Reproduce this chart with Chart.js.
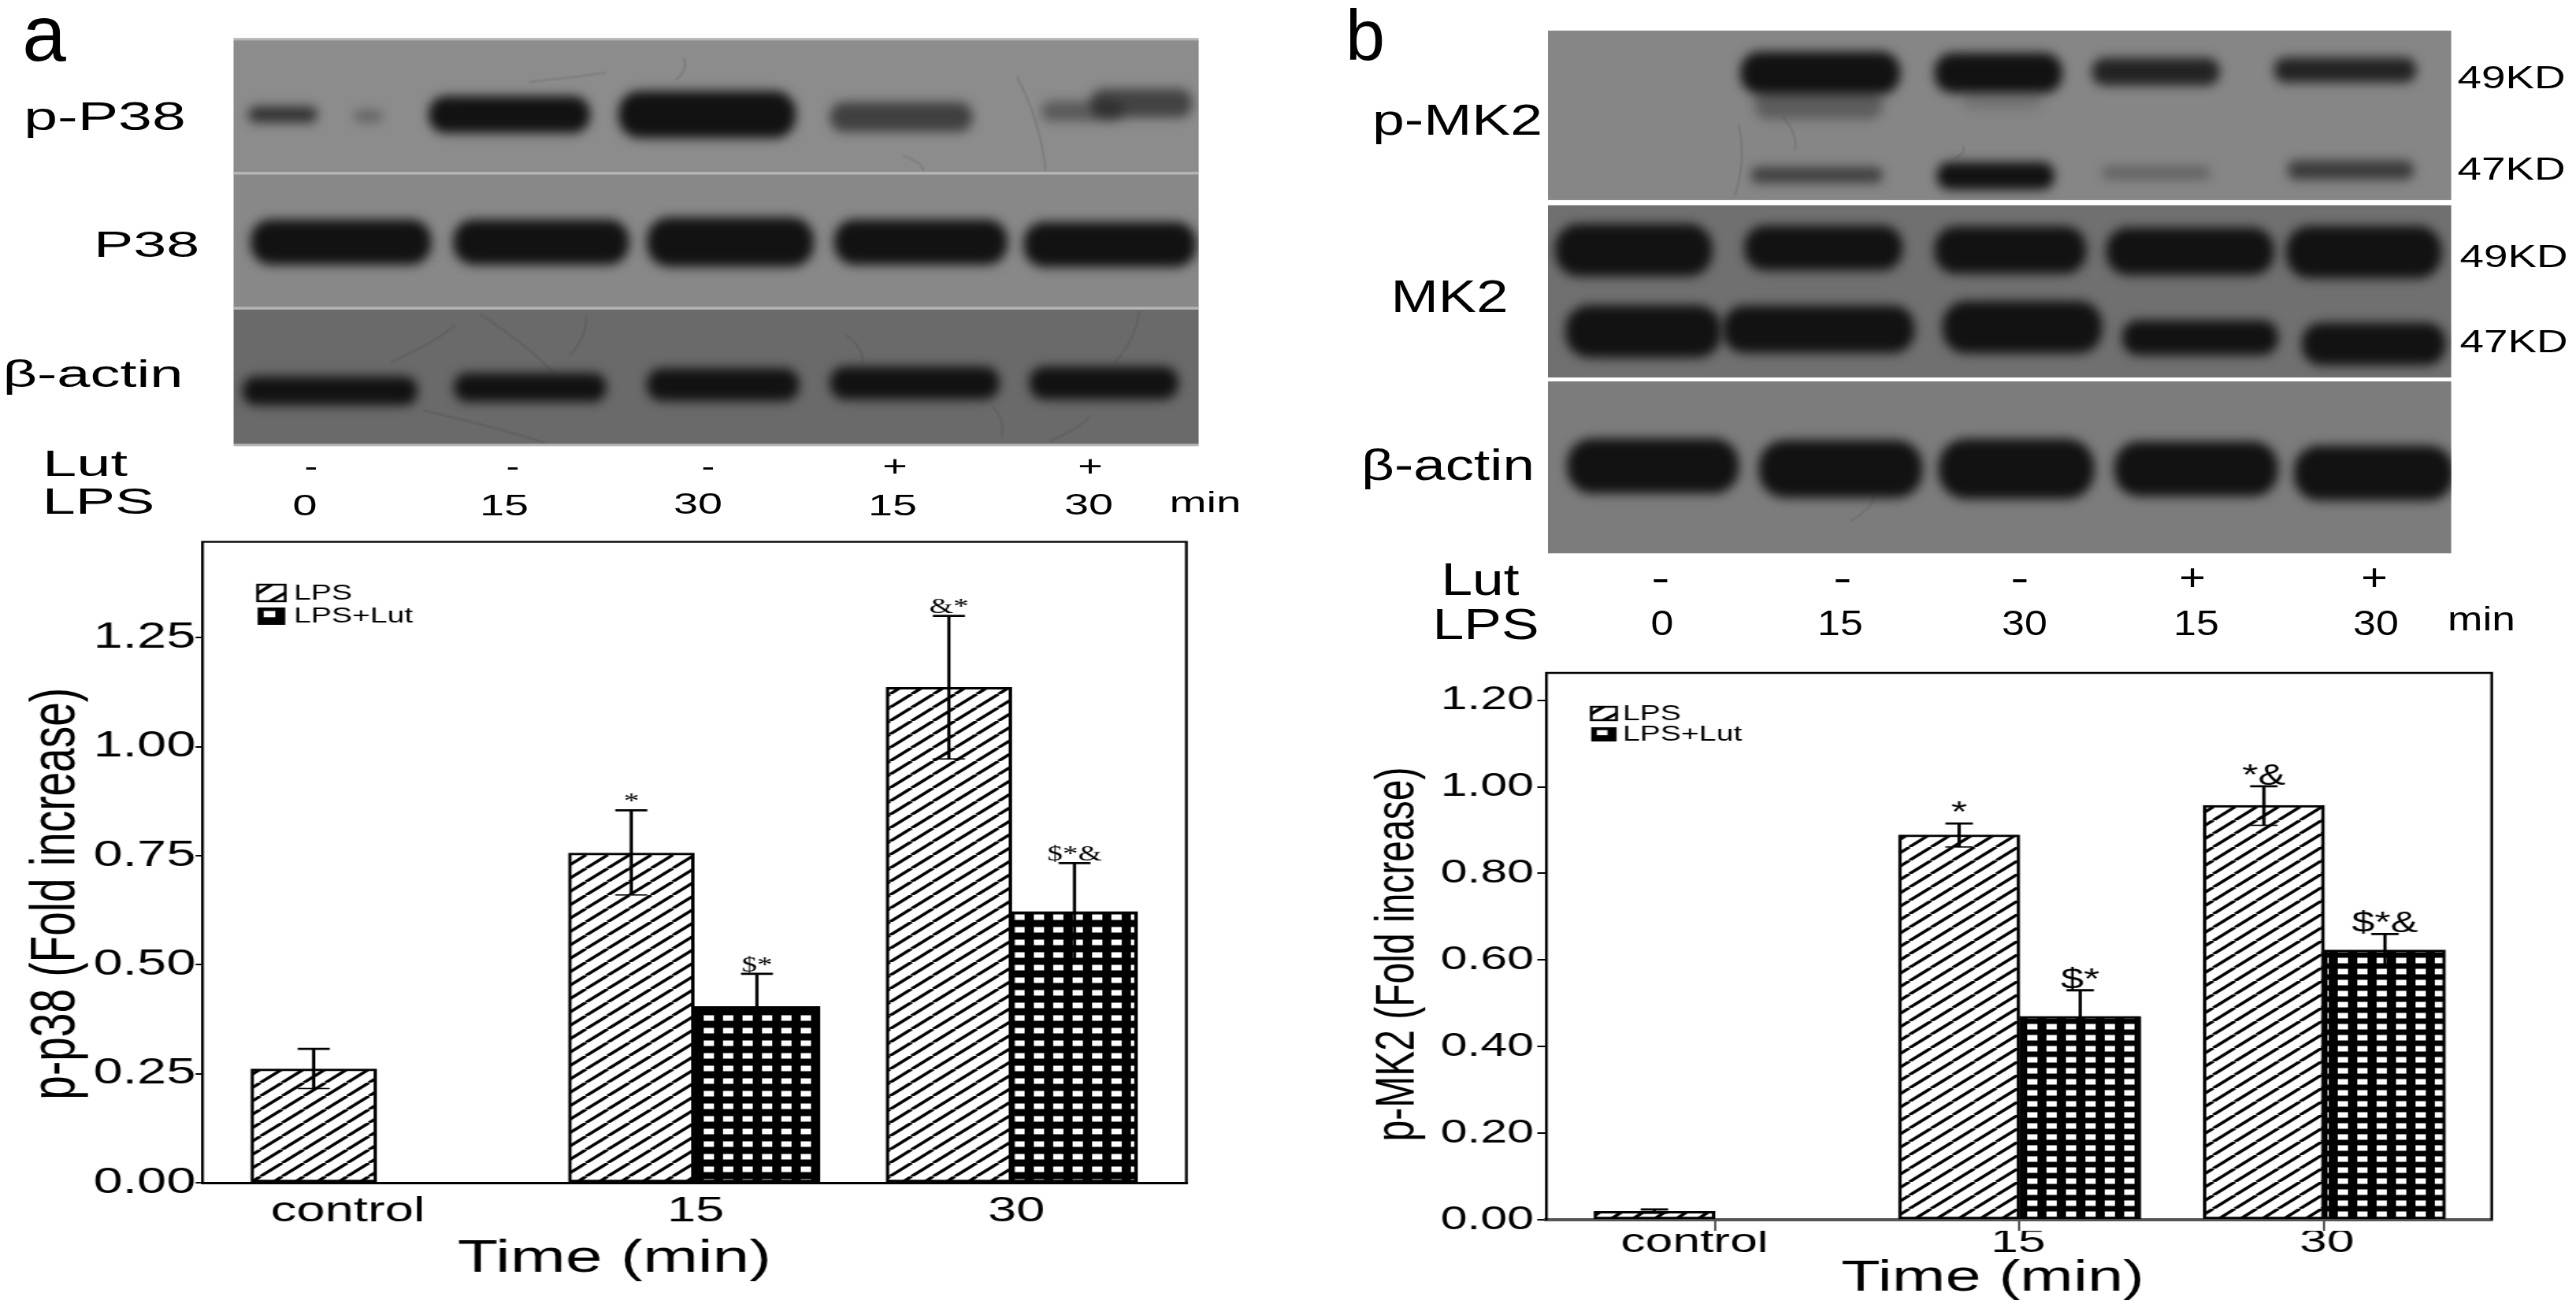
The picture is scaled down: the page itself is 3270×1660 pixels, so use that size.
<!DOCTYPE html>
<html>
<head>
<meta charset="utf-8">
<title>p-p38 and p-MK2</title>
<script src="https://cdn.jsdelivr.net/npm/chart.js@4"></script>
<style>
  html, body { margin: 0; background: #fff; }
  #root { position: relative; width: 3270px; height: 1660px; overflow: hidden; background: #fff; filter: blur(0.6px); }
  #root canvas { position: absolute; }
  .lbl { position: absolute; white-space: nowrap; line-height: 1; color: #000; font-family: "Liberation Sans", sans-serif; }
</style>
</head>
<body>
<div id="root"><canvas id="blots" width="3270" height="1660" style="left:0;top:0"></canvas></div>
<script>
// values
const categories = ['control', '15', '30']
const seriesNames = ['LPS', 'LPS+Lut']

const lpsA = [0.261, 0.756, 1.136]
const lpsATop = [0.307, 0.854, 1.300]
const lpsALow = [0.216, 0.660, 0.972]
const lutA = [null, 0.404, 0.622]
const lutATop = [null, 0.479, 0.733]
const lutALow = [null, 0.330, 0.510]
const marksLpsA = ['', '*', '&*']
const marksLutA = ['', '$*', '$*&']

const lpsB = [0.0195, 0.889, 0.957]
const lpsBTop = [0.024, 0.915, 1.001]
const lpsBLow = [0.015, 0.861, 0.911]
const lutB = [null, 0.470, 0.623]
const lutBTop = [null, 0.530, 0.660]
const lutBLow = [null, 0.410, 0.583]
const marksLpsB = ['', '*', '*&']
const marksLutB = ['', '$*', '$*&']

// the source figure is stretched sideways, so the canvases are too
const stretch = 1.45

function hatch(ctx, w, h, lw) {
    const c = document.createElement('canvas')
    c.width = w; c.height = h
    const g = c.getContext('2d')
    g.fillStyle = '#fff'
    g.fillRect(0, 0, w, h)
    g.strokeStyle = '#000'
    g.lineWidth = lw
    for (const k of [-1, 0, 1]) {
        g.beginPath()
        g.moveTo(k * w, h)
        g.lineTo(k * w + w, 0)
        g.stroke()
    }
    return ctx.createPattern(c, 'repeat')
}

function checks(ctx, w, h, sw, sh) {
    const c = document.createElement('canvas')
    c.width = w; c.height = h
    const g = c.getContext('2d')
    g.fillStyle = '#000'
    g.fillRect(0, 0, w, h)
    g.fillStyle = '#fff'
    g.fillRect((w - sw) / 2, (h - sh) / 2, sw, sh)
    return ctx.createPattern(c, 'repeat')
}

function shiftTitle(scale, dx, dy) {
    if (scale.shifted) return
    scale.shifted = true
    const orig = scale.drawTitle
    scale.drawTitle = function () {
        this.ctx.save()
        this.ctx.translate(dx, dy)
        orig.call(this)
        this.ctx.restore()
    }
}

function drawPanel(p) {
    const canvas = document.createElement('canvas')
    const w = Math.round(p.boxW / stretch)
    canvas.width = w
    canvas.height = p.boxH
    canvas.style.left = p.ox + 'px'
    canvas.style.top = p.oy + 'px'
    canvas.style.transformOrigin = '0 0'
    canvas.style.transform = 'scaleX(' + stretch + ')'
    document.getElementById('root').appendChild(canvas)
    const ctx = canvas.getContext('2d')
    const toX = x => (x - p.ox) / stretch

    const extras = {
        id: 'extras',
        afterDraw(chart) {
            const c = chart.ctx, a = chart.chartArea, y = chart.scales.y
            c.save()
            // frame
            c.strokeStyle = '#000'
            c.lineWidth = p.frameW
            c.beginPath()
            c.moveTo(a.left, a.bottom)
            c.lineTo(a.left, a.top)
            c.lineTo(a.right, a.top)
            c.lineTo(a.right, a.bottom)
            c.stroke()
            // error bars and significance marks
            p.errors.forEach((e, d) => {
                chart.getDatasetMeta(d).data.forEach((bar, i) => {
                    if (e.top[i] === null) return
                    const t = y.getPixelForValue(e.top[i]), l = y.getPixelForValue(e.low[i])
                    c.strokeStyle = '#000'
                    c.lineWidth = 2.8
                    c.beginPath()
                    c.moveTo(bar.x, t); c.lineTo(bar.x, l)
                    c.moveTo(bar.x - p.capW, t); c.lineTo(bar.x + p.capW, t)
                    c.stroke()
                    c.lineWidth = 1.6
                    c.beginPath()
                    c.moveTo(bar.x - p.capW, l); c.lineTo(bar.x + p.capW, l)
                    c.stroke()
                    c.fillStyle = '#000'
                    c.font = p.markFont
                    c.textAlign = 'center'
                    c.textBaseline = 'bottom'
                    c.fillText(e.marks[i], bar.x, t + p.markGap)
                })
            })
            // legend
            p.legend.forEach((row, i) => {
                const x = toX(row.x), bw = row.w / stretch
                c.fillStyle = i ? '#000' : '#fff'
                c.fillRect(x, row.y, bw, row.h)
                c.fillStyle = '#000'
                if (i) {
                    c.fillStyle = '#fff'
                    c.fillRect(x + bw * 0.22, row.y + row.h * 0.2, bw * 0.42, row.h * 0.36)
                } else {
                    c.save()
                    c.beginPath(); c.rect(x, row.y, bw, row.h); c.clip()
                    c.strokeStyle = '#000'
                    c.lineWidth = 3.4
                    c.beginPath()
                    c.moveTo(x - 2, row.y + row.h * 0.62); c.lineTo(x + bw * 0.6, row.y - 2)
                    c.moveTo(x + bw * 0.35, row.y + row.h + 2); c.lineTo(x + bw + 2, row.y + row.h * 0.42)
                    c.stroke()
                    c.restore()
                    c.lineWidth = 2.4
                    c.strokeRect(x, row.y, bw, row.h)
                }
                c.fillStyle = '#000'
                c.font = p.legendSize + 'px "Liberation Sans"'
                c.textAlign = 'left'
                c.textBaseline = 'middle'
                c.fillText(seriesNames[i], toX(p.legendTextX), row.y + row.h / 2 + 1)
            })
            c.restore()
        }
    }

    new Chart(ctx, {
        type: 'bar',
        data: {
            datasets: [
                {
                    label: seriesNames[0],
                    data: p.lps.map((v, i) => ({ x: i, y: v })),
                    backgroundColor: hatch(ctx, 19, 17, 3.3),
                    borderColor: '#000', borderWidth: 3, borderSkipped: false,
                    barThickness: p.barW
                },
                {
                    label: seriesNames[1],
                    data: p.lut.map((v, i) => ({ x: i, y: v })),
                    backgroundColor: checks(ctx, 17, p.checkH, 9, 7),
                    borderColor: '#000', borderWidth: 3, borderSkipped: false,
                    barThickness: p.barW
                }
            ]
        },
        options: {
            responsive: false,
            animation: false,
            devicePixelRatio: 1,
            layout: { padding: { top: p.top - p.oy, right: w - toX(p.right), left: 0, bottom: 0 } },
            plugins: { legend: { display: false }, tooltip: { enabled: false } },
            scales: {
                x: {
                    type: 'linear',
                    min: p.xMin, max: p.xMax,
                    offset: false,
                    weight: 0,
                    border: { color: p.axisColor, width: p.axisW },
                    grid: { display: p.xTicks > 0, offset: false, drawOnChartArea: false, color: p.axisColor, lineWidth: 2, tickLength: p.xTicks },
                    ticks: { display: false },
                    afterBuildTicks: s => { s.ticks = categories.map((c, i) => ({ value: i })) },
                    afterFit: s => { s.height = p.xTicks }
                },
                xl: {
                    type: 'linear',
                    position: 'bottom',
                    min: p.xMin, max: p.xMax,
                    offset: false,
                    weight: 1,
                    border: { display: false },
                    grid: { display: false, offset: false },
                    ticks: {
                        autoSkip: false, maxRotation: 0, padding: p.labelPad,
                        font: { size: p.xSize }, color: '#000',
                        callback: (v, i) => categories[i]
                    },
                    title: { display: true, text: 'Time (min)', color: '#000', font: { size: p.xTitleSize }, padding: { top: 0, bottom: p.xTitlePad } },
                    afterBuildTicks: s => { s.ticks = p.labelAt.map(value => ({ value })) },
                    afterFit: s => { s.height = p.boxH - (p.bottom - p.oy) - p.xTicks; shiftTitle(s, p.xTitleDx, 0) }
                },
                y: {
                    min: 0, max: p.yMax,
                    border: { color: '#000', width: 2 },
                    grid: { drawOnChartArea: false, color: '#000', lineWidth: 2, tickLength: p.yTickLen },
                    ticks: {
                        stepSize: p.step, includeBounds: false, padding: p.yPad,
                        font: { size: p.ySize }, color: '#000',
                        callback: v => v.toFixed(2)
                    },
                    title: { display: true, text: p.yTitle, color: '#000', font: { size: p.yTitleSize }, padding: { top: p.yTitlePad, bottom: 0 } },
                    afterFit: s => { s.width = toX(p.left); shiftTitle(s, 0, p.yTitleDy) }
                }
            }
        },
        plugins: [extras]
    })
}

drawPanel({
    ox: 0, oy: 660, boxW: 1620, boxH: 1000,
    left: 257, right: 1506, top: 683, bottom: 1501,
    lps: lpsA, lut: lutA,
    errors: [{ top: lpsATop, low: lpsALow, marks: marksLpsA }, { top: lutATop, low: lutALow, marks: marksLutA }],
    barW: 110, checkH: 16, capW: 14, frameW: 2.4,
    xMin: -0.548, xMax: 2.55, labelAt: [-0.09, 1.005, 2.015],
    yMax: 1.47, step: 0.25, yTitle: 'p-p38 (Fold increase)',
    ySize: 46, yPad: 0, yTickLen: 6, yTitleSize: 55, yTitlePad: 17, yTitleDy: 40,
    xSize: 45, xTicks: 0, labelPad: 2, xTitleSize: 58, xTitlePad: 27, xTitleDx: -70,
    axisColor: '#000', axisW: 3,
    markFont: '27px "Liberation Serif"', markGap: 3,
    legend: [{ x: 327, y: 82, w: 35, h: 21 }, { x: 327, y: 111, w: 35, h: 22 }],
    legendTextX: 373, legendSize: 27
})

drawPanel({
    ox: 1680, oy: 820, boxW: 1590, boxH: 840,
    left: 1963, right: 3163, top: 854, bottom: 1548,
    lps: lpsB, lut: lutB,
    errors: [{ top: lpsBTop, low: lpsBLow, marks: marksLpsB }, { top: lutBTop, low: lutBLow, marks: marksLutB }],
    barW: 106, checkH: 14, capW: 12, frameW: 2.4,
    xMin: -0.553, xMax: 2.549, labelAt: [-0.067, 0.995, 2.008],
    yMax: 1.263, step: 0.2, yTitle: 'p-MK2 (Fold increase)',
    ySize: 42, yPad: 3, yTickLen: 8, yTitleSize: 48, yTitlePad: 37, yTitleDy: 10,
    xSize: 43, xTicks: 14, labelPad: -19, xTitleSize: 56, xTitlePad: 4, xTitleDx: -23,
    axisColor: '#555', axisW: 4,
    markFont: '36px "Liberation Sans"', markGap: 6,
    legend: [{ x: 2020, y: 77, w: 32, h: 17 }, { x: 2020, y: 103, w: 32, h: 18 }],
    legendTextX: 2060, legendSize: 27
})

// blot photographs: rows in crop coordinates, bands are [x0, x1, yCentre, height, strength]
const blotA = {
    ox: 0, oy: 0, fx: 1.033, fy: 0.434, x0: 287, x1: 1473, seam: '#b5b5b5',
    rows: [
        { y0: 118, y1: 503, gray: 140, bands: [
            [305, 390, 335, 40, 0.72], [435, 470, 340, 30, 0.32], [527, 725, 335, 90, 1], [760, 978, 335, 115, 1],
            [1020, 1195, 342, 72, 0.62], [1280, 1380, 325, 50, 0.4], [1340, 1465, 302, 70, 0.6]] },
        { y0: 510, y1: 898, gray: 136, bands: [
            [308, 530, 708, 110, 1], [557, 773, 708, 110, 1], [795, 1000, 708, 120, 1], [1025, 1238, 708, 110, 1], [1258, 1470, 715, 110, 1]] },
        { y0: 905, y1: 1298, gray: 106, bands: [
            [298, 513, 1143, 70, 1], [558, 745, 1133, 70, 1], [795, 982, 1125, 80, 1], [1020, 1228, 1120, 80, 1], [1265, 1448, 1120, 80, 1]] }
    ],
    scratches: [
        [650, 240, 745, 212], [840, 170, 830, 235], [1250, 225, 1285, 500], [1110, 455, 1135, 500],
        [480, 1060, 560, 950], [590, 920, 680, 1090], [720, 925, 700, 1040], [1290, 1290, 1340, 1215],
        [1400, 910, 1370, 1060], [1040, 980, 1060, 1060], [1220, 1190, 1230, 1280], [520, 1200, 670, 1295]
    ]
}
const blotB = {
    ox: 1680, oy: 0, fx: 1.014, fy: 0.529, x0: 281, x1: 1412, seam: '#fff',
    rows: [
        { y0: 73, y1: 480, gray: 134, bands: [
            [522, 722, 175, 85, 1], [765, 925, 175, 80, 1], [962, 1122, 172, 55, 0.85], [1190, 1368, 168, 50, 0.85],
            [540, 700, 250, 60, 0.35], [800, 900, 240, 40, 0.15],
            [535, 700, 420, 32, 0.6], [768, 915, 422, 55, 1], [975, 1110, 415, 26, 0.3], [1207, 1365, 408, 38, 0.65]] },
        { y0: 492, y1: 906, gray: 112, bands: [
            [290, 487, 600, 105, 1], [527, 725, 595, 90, 1], [765, 955, 600, 95, 1], [980, 1190, 603, 95, 1], [1205, 1400, 605, 105, 1],
            [303, 498, 795, 105, 1], [500, 740, 790, 95, 1], [775, 975, 785, 105, 1], [1000, 1195, 810, 70, 1], [1225, 1405, 825, 85, 1]] },
        { y0: 915, y1: 1328, gray: 124, bands: [
            [305, 520, 1118, 110, 1], [545, 750, 1125, 115, 1], [770, 965, 1125, 120, 1], [990, 1195, 1125, 110, 1], [1215, 1415, 1135, 110, 1]] }
    ],
    scratches: [[575, 280, 590, 360], [520, 300, 515, 470], [800, 350, 790, 380], [690, 1190, 660, 1250]]
}

function drawBlot(b) {
    const c = document.getElementById('blots').getContext('2d')
    const X = v => b.ox + v * b.fx, Y = v => b.oy + v * b.fy
    b.rows.forEach(r => {
        c.save()
        c.fillStyle = b.seam
        c.fillRect(X(b.x0), Y(r.y0) - 3, X(b.x1) - X(b.x0), Y(r.y1) - Y(r.y0) + 6)
        c.beginPath()
        c.rect(X(b.x0), Y(r.y0), X(b.x1) - X(b.x0), Y(r.y1) - Y(r.y0))
        c.clip()
        c.fillStyle = 'rgb(' + r.gray + ',' + r.gray + ',' + r.gray + ')'
        c.fillRect(X(b.x0), Y(r.y0), X(b.x1) - X(b.x0), Y(r.y1) - Y(r.y0))
        c.filter = 'blur(7px)'
        r.bands.forEach(([x0, x1, yc, h, k]) => {
            const hh = h * b.fy * 1.2
            c.fillStyle = 'rgba(18,18,18,' + k + ')'
            c.beginPath()
            c.roundRect(X(x0), Y(yc) - hh / 2, X(x1) - X(x0), hh, hh / 2.2)
            c.fill()
        })
        c.filter = 'blur(0.8px)'
        c.strokeStyle = 'rgba(50,50,50,0.35)'
        c.lineWidth = 1.2
        b.scratches.forEach(([a, d, e, f]) => {
            c.beginPath()
            c.moveTo(X(a), Y(d))
            c.quadraticCurveTo(X((a + e) / 2 + 12), Y((d + f) / 2), X(e), Y(f))
            c.stroke()
        })
        c.restore()
    })
}
drawBlot(blotA)
drawBlot(blotB)

// text around the blots: [text, centre x, centre y, font size, sideways scale]
const blotLabels = [
    ['a', 56, 42, 100, 1], ['b', 1733, 45, 90, 1],
    ['p-P38', 133, 148, 50, 1.54], ['P38', 186, 310, 46, 1.64], ['β-actin', 118, 475, 48, 1.58],
    ['Lut', 108, 588, 46, 1.69], ['LPS', 125, 636, 46, 1.64], ['min', 1530, 638, 36, 1.57],
    ['-', 395, 592, 36, 1.4], ['-', 651, 592, 36, 1.4], ['-', 899, 592, 36, 1.4], ['+', 1136, 592, 36, 1.5], ['+', 1384, 592, 36, 1.5],
    ['0', 387, 642, 36, 1.55], ['15', 640, 642, 36, 1.55], ['30', 886, 640, 36, 1.55], ['15', 1133, 642, 36, 1.55], ['30', 1382, 641, 36, 1.55],
    ['p-MK2', 1850, 152, 56, 1.31], ['MK2', 1840, 376, 58, 1.25], ['β-actin', 1838, 590, 56, 1.3],
    ['49KD', 3188, 98, 40, 1.37], ['47KD', 3188, 214, 40, 1.37], ['49KD', 3191, 325, 40, 1.37], ['47KD', 3191, 433, 40, 1.37],
    ['Lut', 1879, 735, 58, 1.23], ['LPS', 1886, 792, 55, 1.3], ['min', 3150, 786, 42, 1.27],
    ['-', 2108, 733, 50, 1.4], ['-', 2339, 733, 50, 1.4], ['-', 2564, 733, 50, 1.4], ['+', 2783, 733, 48, 1.2], ['+', 3014, 733, 48, 1.2],
    ['0', 2110, 791, 44, 1.18], ['15', 2336, 791, 44, 1.18], ['30', 2570, 791, 44, 1.18], ['15', 2788, 791, 44, 1.18], ['30', 3016, 791, 44, 1.18]
]
blotLabels.forEach(([text, x, y, size, sx]) => {
    const el = document.createElement('div')
    el.className = 'lbl'
    el.textContent = text
    el.style.left = x + 'px'
    el.style.top = y + 'px'
    el.style.fontSize = size + 'px'
    el.style.transform = 'translate(-50%,-50%) scaleX(' + sx + ')'
    document.getElementById('root').appendChild(el)
})
</script>
</body>
</html>
